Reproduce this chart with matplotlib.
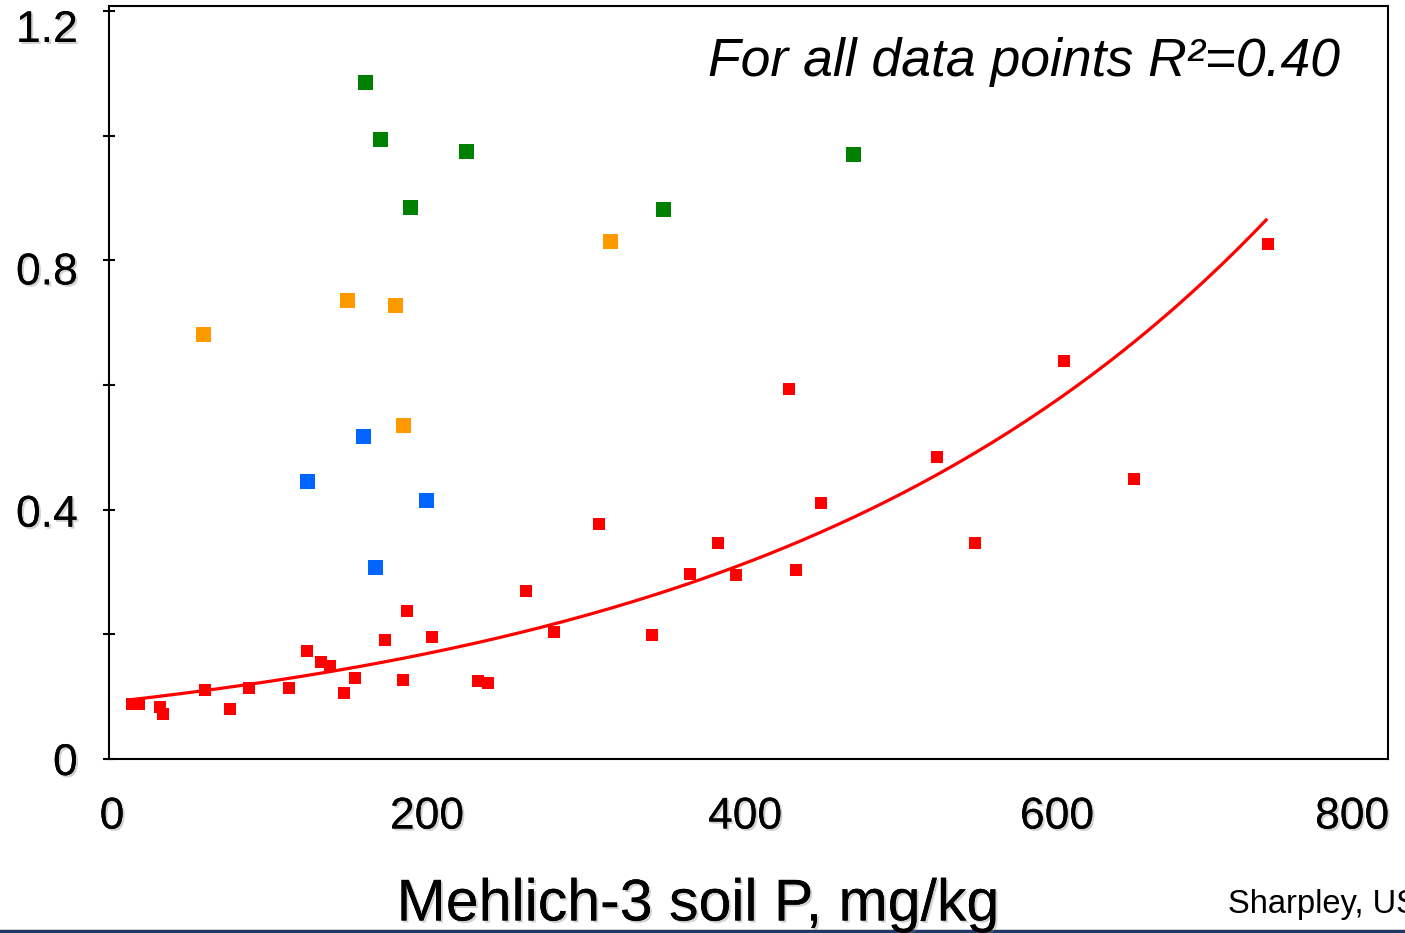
import numpy as np
import matplotlib
matplotlib.use("Agg")
import matplotlib.pyplot as plt
from matplotlib import patheffects
from matplotlib.lines import Line2D
from matplotlib.transforms import ScaledTranslation

plt.rcParams['font.family'] = ['Liberation Sans', 'DejaVu Sans']

# Mehlich-3 soil P (mg/kg) vs. the y quantity, per group
green_x = [162.5, 172.0, 226.7, 191.0, 351.7, 472.4]
green_y = [1.086, 0.995, 0.975, 0.886, 0.882, 0.971]

orange_x = [151.0, 181.6, 59.7, 186.7, 318.0]
orange_y = [0.736, 0.728, 0.682, 0.536, 0.831]

blue_x = [161.3, 125.7, 201.3, 168.9]
blue_y = [0.518, 0.446, 0.416, 0.308]

red_x = [14.6, 19.0, 32.4, 34.3, 61.0, 76.8, 88.9, 114.3, 125.7, 134.6,
         140.3, 149.2, 156.2, 175.2, 186.7, 189.2, 205.1, 234.3, 240.6, 264.8,
         282.5, 311.1, 344.8, 368.9, 386.7, 398.1, 431.7, 436.2, 452.1, 525.7,
         549.8, 606.3, 650.8, 735.9]
red_y = [0.088, 0.088, 0.083, 0.072, 0.111, 0.080, 0.114, 0.114, 0.173, 0.156,
         0.149, 0.106, 0.130, 0.191, 0.127, 0.237, 0.196, 0.125, 0.122, 0.270,
         0.204, 0.377, 0.199, 0.297, 0.347, 0.295, 0.594, 0.303, 0.411, 0.485,
         0.347, 0.639, 0.449, 0.826]

# exponential trend line y = a * exp(b * x), as drawn
trend_a = 0.0912
trend_b = 0.003062
trend_range = (13.3, 734.6)

shadow = [patheffects.withSimplePatchShadow(offset=(1.5, -1.5), shadow_rgbFace='0.5', alpha=0.35),
          patheffects.Normal()]

fig = plt.figure(figsize=(14.05, 9.33), dpi=100)
ax = fig.add_axes([109 / 1405, 1 - 759 / 933, (1388 - 109) / 1405, (759 - 6) / 933])

ax.plot(red_x, red_y, 's', color='#FF0000', ms=8.6, mew=0, zorder=3)
ax.plot(blue_x, blue_y, 's', color='#0066FF', ms=10.8, mew=0, zorder=3)
ax.plot(orange_x, orange_y, 's', color='#FF9900', ms=10.8, mew=0, zorder=3)
ax.plot(green_x, green_y, 's', color='#008000', ms=10.8, mew=0, zorder=3)

tx = np.linspace(trend_range[0], trend_range[1], 200)
ax.plot(tx, trend_a * np.exp(trend_b * tx), color='#FF0000', lw=2.3, zorder=2)

ax.set_xlim(0, 812)
ax.set_ylim(0, 1.208)
ax.set_xticks([0, 200, 400, 600, 800])
ax.set_yticks([0, 0.4, 0.8, 1.2])
ax.set_yticklabels(['0', '0.4', '0.8', '1.2'])
ax.set_yticks([0.2, 0.6, 1.0], minor=True)
ax.tick_params(axis='x', length=0, pad=27, labelsize=32)
ax.tick_params(axis='y', which='both', direction='inout', length=9, width=1.5, pad=18, labelsize=32)
for lab in ax.get_xticklabels() + ax.get_yticklabels():
    lab.set_path_effects(shadow)

# nudge labels the way the slide has them (keeps 1.2 and 800 inside the picture)
y_shift = [0, -1, -8, -15]
for lab, dy in zip(ax.get_yticklabels(), y_shift):
    lab.set_transform(lab.get_transform() + ScaledTranslation(0, dy / 100, fig.dpi_scale_trans))
x_shift = [3, 3, 6, 3, -17]
for lab, dx in zip(ax.get_xticklabels(), x_shift):
    lab.set_transform(lab.get_transform() + ScaledTranslation(dx / 100, 0, fig.dpi_scale_trans))

for s in ax.spines.values():
    s.set_linewidth(1.5)
    s.set_color('black')

fig.text(698 / 1405, 1 - 905 / 933, 'Mehlich-3 soil P, mg/kg', ha='center', va='center',
         fontsize=42.5, path_effects=shadow)
fig.text(1340 / 1405, 1 - 62 / 933, 'For all data points R²=0.40', ha='right', va='center',
         fontsize=38.5, style='italic')
fig.text(1228 / 1405, 1 - 904 / 933, 'Sharpley, USDA-ARS', ha='left', va='center', fontsize=23.5)

fig.add_artist(Line2D([0, 1], [1 - 931 / 933, 1 - 931 / 933], transform=fig.transFigure,
                      color='#1F3864', lw=2.5))

fig.savefig('out.png', dpi=100)
